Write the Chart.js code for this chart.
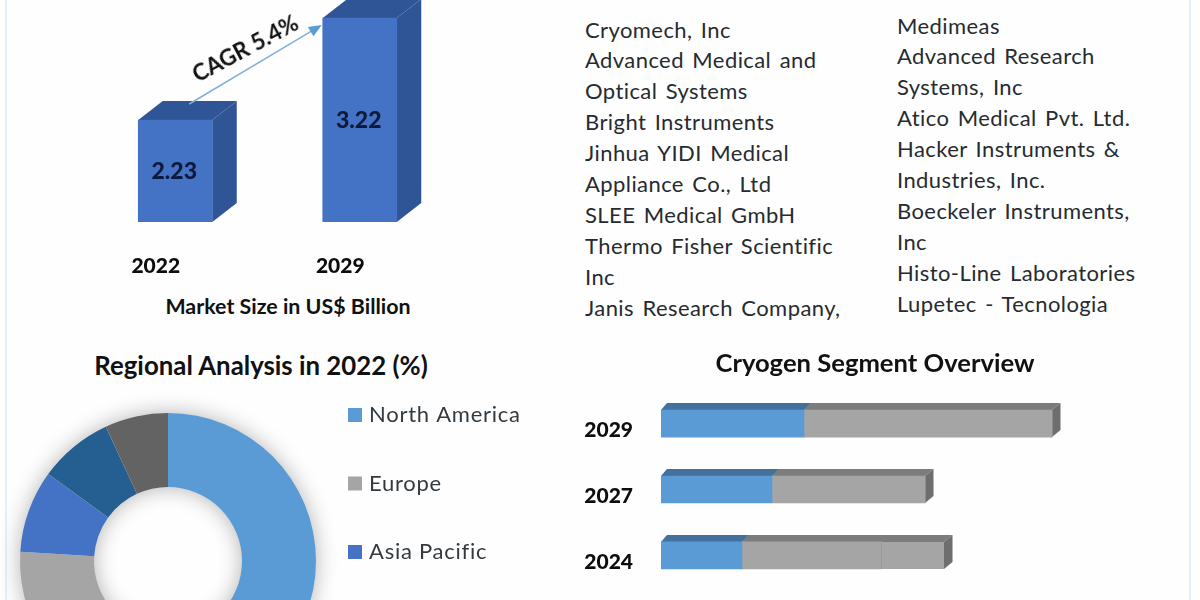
<!DOCTYPE html>
<html><head><meta charset="utf-8">
<style>
html,body{margin:0;padding:0;width:1200px;height:600px;overflow:hidden;background:#fefefe}
canvas{position:absolute;display:block}
.t{position:absolute;white-space:nowrap;font-family:Lato,sans-serif;color:#111}
.list{font-size:22px;line-height:30.9px;color:#262b30;letter-spacing:.42px;word-spacing:2.4px}
.h{font-weight:700;transform:translate(-50%,-50%)}
.edge{position:absolute;top:0;bottom:0;width:2px;background:#e6eff7}
</style></head><body>
<div class="edge" style="left:5px"></div><div class="edge" style="left:1189px"></div>
<canvas id="c1" width="369" height="290" style="left:83px;top:0"></canvas>
<canvas id="c2" width="540" height="330" style="left:0;top:383px"></canvas>
<canvas id="c3" width="491" height="279" style="left:570px;top:350px"></canvas>
<div class="t h" id="cagr" style="left:245px;top:48px;font-size:22.5px;font-weight:700;transform:translate(-50%,-50%) rotate(-28deg)"></div>
<div class="t h" id="caption" style="left:288px;top:306px;font-size:21.4px"></div>
<div class="t h" id="title2" style="left:261px;top:365px;font-size:25.8px"></div>
<div class="t h" id="title3" style="left:875px;top:361.5px;font-size:25.6px"></div>
<div class="t list" id="listA" style="left:585px;top:14.5px"></div>
<div class="t list" id="listB" style="left:897px;top:10.5px"></div>
<script src="https://cdn.jsdelivr.net/npm/chart.js@4"></script>
<script>
const marketYears = ['2022','2029'];
const marketSize = [2.23,3.22];
const marketBase = 1.24;
const regions = ['North America','Europe','Asia Pacific','Middle East and Africa','South America'];
const regionShare = [50,26,9,8.1,6.9];
const regionColors = ['#5b9bd5','#a5a5a5','#4472c4','#255e91','#636363'];
const segYears = ['2029','2027','2024'];
const segFirst = [1.43,1.11,0.81];
const segSecond = [2.48,1.53,1.39];
const segThird = [0,0,0.63];
const captionText = 'Market Size in US$ Billion';
const cagrText = 'CAGR 5.4%';
const titleRegional = 'Regional Analysis in 2022 (%)';
const titleSegment = 'Cryogen Segment Overview';
const companiesA = ['Cryomech, Inc','Advanced Medical and','Optical Systems','Bright Instruments','Jinhua YIDI Medical','Appliance Co., Ltd','SLEE Medical GmbH','Thermo Fisher Scientific','Inc','Janis Research Company,'];
const companiesB = ['Medimeas','Advanced Research','Systems, Inc','Atico Medical Pvt. Ltd.','Hacker Instruments &','Industries, Inc.','Boeckeler Instruments,','Inc','Histo-Line Laboratories','Lupetec - Tecnologia'];

document.getElementById('cagr').textContent = cagrText;
document.getElementById('caption').textContent = captionText;
document.getElementById('title2').textContent = titleRegional;
document.getElementById('title3').textContent = titleSegment;
document.getElementById('listA').innerHTML = companiesA.join('<br>');
document.getElementById('listB').innerHTML = companiesB.join('<br>');

const FONT='Lato, sans-serif';
Chart.defaults.animation=false;
Chart.defaults.responsive=false;
Chart.defaults.devicePixelRatio=1;
Chart.defaults.plugins.legend.display=false;
Chart.defaults.plugins.tooltip.enabled=false;

function depth3D(dx,dy){return {id:'depth3D',beforeDatasetsDraw(chart){
  const ctx=chart.ctx,horizontal=chart.options.indexAxis==='y';
  chart.data.datasets.forEach((ds,di)=>{
    chart.getDatasetMeta(di).data.forEach((el,i)=>{
      if(!ds.data[i])return;
      const l=horizontal?el.base:el.x-el.width/2, r=horizontal?el.x:el.x+el.width/2;
      const t=horizontal?el.y-el.height/2:el.y, b=horizontal?el.y+el.height/2:el.base;
      ctx.fillStyle=ds.topColor;ctx.beginPath();
      ctx.moveTo(l,t);ctx.lineTo(l+dx*(horizontal?.7:1),t-dy);ctx.lineTo(r+dx,t-dy);ctx.lineTo(r,t);ctx.closePath();ctx.fill();
      const laterValue=chart.data.datasets.slice(di+1).some(o=>o.data[i]);
      if(!laterValue){
        ctx.fillStyle=ds.sideColor;ctx.beginPath();
        ctx.moveTo(r,t);ctx.lineTo(r+dx,t-dy);ctx.lineTo(r+dx,b-dy);ctx.lineTo(r,b);ctx.closePath();ctx.fill();
      }
    });
  });
}}}

const marketExtras={id:'marketExtras',afterDatasetsDraw(chart){
  const ctx=chart.ctx,bars=chart.getDatasetMeta(0).data;
  ctx.save();
  ctx.fillStyle='#0e1a3c';ctx.font='900 23px '+FONT;ctx.textAlign='center';ctx.textBaseline='middle';
  bars.forEach((b,i)=>ctx.fillText(marketSize[i].toFixed(2),b.x-1,(b.y+b.base)/2+1));
  const x0=bars[0].x+14,y0=bars[0].y-16,x1=bars[1].x-bars[1].width/2-1,y1=bars[1].y+7;
  const a=Math.atan2(y1-y0,x1-x0);
  ctx.strokeStyle='#7fb0dc';ctx.lineWidth=1.5;ctx.beginPath();ctx.moveTo(x0,y0);
  ctx.lineTo(x1-12*Math.cos(a),y1-12*Math.sin(a));ctx.stroke();
  ctx.fillStyle='#5b9bd5';ctx.beginPath();ctx.moveTo(x1,y1);
  ctx.lineTo(x1-14*Math.cos(a-.4),y1-14*Math.sin(a-.4));
  ctx.lineTo(x1-14*Math.cos(a+.4),y1-14*Math.sin(a+.4));ctx.closePath();ctx.fill();
  ctx.restore();
}};

new Chart(document.getElementById('c1'),{
  type:'bar',
  data:{labels:marketYears,datasets:[{data:marketSize,base:marketBase,backgroundColor:'#4472c4',topColor:'#2f5597',sideColor:'#2f5597',barThickness:74}]},
  plugins:[depth3D(24.5,19),marketExtras],
  options:{layout:{padding:0,autoPadding:false},scales:{
    y:{display:false,min:marketBase,max:3.395},
    x:{grid:{display:false,drawTicks:false},border:{display:false},afterFit(s){s.height=68},
       ticks:{padding:32,labelOffset:-19.5,maxRotation:0,color:'#0d0d0d',font:{family:FONT,size:21,weight:'900'}}}
  }}
});

const donutExtras={id:'donutExtras',
 beforeDatasetsDraw(chart){
  const ctx=chart.ctx,a=chart.getDatasetMeta(0).data[0];
  ctx.save();ctx.shadowColor='rgba(0,0,0,.32)';ctx.shadowBlur=22;ctx.fillStyle='#fff';
  ctx.beginPath();ctx.arc(a.x,a.y,a.outerRadius-1,0,Math.PI*2);ctx.arc(a.x,a.y,a.innerRadius+1,0,Math.PI*2,true);ctx.fill();
  ctx.restore();
 },
 afterDraw(chart){
  const ctx=chart.ctx;ctx.save();
  ctx.font='400 22px '+FONT;ctx.textBaseline='middle';ctx.letterSpacing='.75px';
  chart.data.labels.forEach((lab,i)=>{
    const cy=32+68.5*i;
    ctx.fillStyle=regionColors[i];ctx.fillRect(348,cy-7,14,14);
    ctx.fillStyle='#333a40';ctx.fillText(lab,369,cy);
  });
  ctx.restore();
 }};
new Chart(document.getElementById('c2'),{
  type:'doughnut',
  data:{labels:regions,datasets:[{data:regionShare,backgroundColor:regionColors,borderWidth:0}]},
  plugins:[donutExtras],
  options:{cutout:'50%',layout:{padding:{top:30,right:204,left:0,bottom:4},autoPadding:false}}
});

new Chart(document.getElementById('c3'),{
  type:'bar',
  data:{labels:segYears,datasets:[
    {data:segFirst,backgroundColor:'#5b9bd5',topColor:'#41719c',sideColor:'#41719c',barThickness:27,stack:'s'},
    {data:segSecond,backgroundColor:'#a5a5a5',topColor:'#7c7c7c',sideColor:'#6e6e6e',barThickness:27,stack:'s'},
    {data:segThird,backgroundColor:'#a5a5a5',topColor:'#7c7c7c',sideColor:'#6e6e6e',borderColor:'#8f8f8f',borderWidth:{left:1,right:0,top:0,bottom:0},borderSkipped:false,barThickness:27,stack:'s'}
  ]},
  plugins:[depth3D(8.5,7)],
  options:{indexAxis:'y',layout:{padding:0,autoPadding:false},scales:{
    x:{display:false,stacked:true,min:0,max:4},
    y:{stacked:true,grid:{display:false,drawTicks:false},border:{display:false},afterFit(s){s.width=91},
       ticks:{padding:28,labelOffset:7,color:'#0d0d0d',font:{family:FONT,size:21,weight:'900'}}}
  }}
});
</script>
</body></html>
